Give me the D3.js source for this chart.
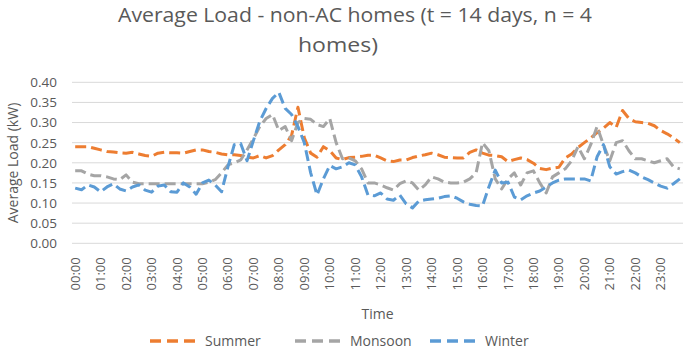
<!DOCTYPE html>
<html>
<head>
<meta charset="utf-8">
<script src="https://cdn.jsdelivr.net/npm/d3@7"></script>
<style>
    body { margin: 0; background: #fff; }
    text { font-family: "Open Sans", "Liberation Sans", sans-serif; fill: #595959; }
</style>
</head>
<body>
<svg id="chart"></svg>
<script>
const times = [
    "00:00","00:15","00:30","00:45","01:00","01:15","01:30","01:45",
    "02:00","02:15","02:30","02:45","03:00","03:15","03:30","03:45",
    "04:00","04:15","04:30","04:45","05:00","05:15","05:30","05:45",
    "06:00","06:15","06:30","06:45","07:00","07:15","07:30","07:45",
    "08:00","08:15","08:30","08:45","09:00","09:15","09:30","09:45",
    "10:00","10:15","10:30","10:45","11:00","11:15","11:30","11:45",
    "12:00","12:15","12:30","12:45","13:00","13:15","13:30","13:45",
    "14:00","14:15","14:30","14:45","15:00","15:15","15:30","15:45",
    "16:00","16:15","16:30","16:45","17:00","17:15","17:30","17:45",
    "18:00","18:15","18:30","18:45","19:00","19:15","19:30","19:45",
    "20:00","20:15","20:30","20:45","21:00","21:15","21:30","21:45",
    "22:00","22:15","22:30","22:45","23:00","23:15","23:30","23:45"
];
const hourLabels = [
    "00:00","01:00","02:00","03:00","04:00","05:00","06:00","07:00",
    "08:00","09:00","10:00","11:00","12:00","13:00","14:00","15:00",
    "16:00","17:00","18:00","19:00","20:00","21:00","22:00","23:00"
];
const yTicks = [0, 0.05, 0.10, 0.15, 0.20, 0.25, 0.30, 0.35, 0.40];

const summer = [
    0.240,0.240,0.240,0.236,0.232,0.228,0.227,0.225,0.224,0.226,0.222,0.218,
    0.216,0.224,0.226,0.225,0.225,0.224,0.228,0.232,0.232,0.228,0.226,0.222,
    0.220,0.220,0.218,0.214,0.212,0.218,0.212,0.218,0.232,0.245,0.268,0.338,
    0.262,0.224,0.214,0.240,0.230,0.212,0.208,0.213,0.214,0.216,0.219,0.219,
    0.212,0.205,0.203,0.207,0.207,0.213,0.217,0.220,0.224,0.220,0.214,0.213,
    0.212,0.212,0.226,0.232,0.224,0.219,0.218,0.215,0.203,0.208,0.212,0.208,
    0.199,0.186,0.183,0.187,0.189,0.212,0.222,0.238,0.250,0.262,0.275,0.286,
    0.300,0.288,0.330,0.310,0.302,0.300,0.298,0.292,0.280,0.272,0.262,0.250
];
const monsoon = [
    0.180,0.180,0.172,0.168,0.168,0.165,0.160,0.158,0.170,0.152,0.148,0.148,
    0.148,0.148,0.148,0.148,0.148,0.148,0.148,0.148,0.148,0.152,0.158,0.175,
    0.195,0.200,0.207,0.232,0.260,0.290,0.310,0.320,0.280,0.290,0.255,0.300,
    0.310,0.308,0.295,0.290,0.310,0.250,0.210,0.212,0.205,0.185,0.150,0.150,
    0.145,0.138,0.132,0.148,0.155,0.150,0.132,0.145,0.165,0.160,0.152,0.150,
    0.150,0.152,0.160,0.175,0.250,0.230,0.160,0.135,0.160,0.175,0.145,0.175,
    0.180,0.150,0.125,0.165,0.175,0.185,0.205,0.240,0.210,0.245,0.290,0.245,
    0.205,0.250,0.255,0.230,0.210,0.210,0.205,0.200,0.205,0.210,0.190,0.185
];
const winter = [
    0.137,0.133,0.145,0.140,0.128,0.140,0.148,0.135,0.130,0.140,0.145,0.132,
    0.127,0.142,0.145,0.128,0.127,0.150,0.140,0.122,0.150,0.157,0.145,0.128,
    0.190,0.245,0.248,0.205,0.255,0.303,0.335,0.360,0.375,0.335,0.320,0.290,
    0.250,0.175,0.120,0.160,0.193,0.185,0.190,0.200,0.195,0.165,0.120,0.118,
    0.125,0.110,0.107,0.120,0.098,0.088,0.105,0.108,0.110,0.112,0.116,0.118,
    0.112,0.103,0.097,0.094,0.093,0.140,0.182,0.150,0.152,0.115,0.108,0.118,
    0.125,0.130,0.140,0.150,0.157,0.160,0.160,0.160,0.160,0.155,0.215,0.245,
    0.190,0.172,0.178,0.182,0.175,0.165,0.158,0.150,0.142,0.137,0.148,0.160
];

const seriesNames = ["Summer", "Monsoon", "Winter"];
const seriesColors = ["#ED7D31", "#A5A5A5", "#5B9BD5"];
const seriesValues = [summer, monsoon, winter];

const width = 685, height = 349;
const plot = { left: 72, right: 683, top: 82.3, bottom: 243.3 };

const svg = d3.select("#chart").attr("width", width).attr("height", height);

const x = d3.scaleBand().domain(times).range([plot.left, plot.right]).padding(0);
const y = d3.scaleLinear().domain([0, 0.4]).range([plot.bottom, plot.top]);

// title
const title = svg.append("g").attr("class", "title");
title.append("text")
    .attr("x", 355).attr("y", 22)
    .attr("text-anchor", "middle")
    .attr("font-size", "20px")
    .attr("textLength", 474)
    .attr("lengthAdjust", "spacingAndGlyphs")
    .text("Average Load - non-AC homes (t = 14 days, n = 4");
title.append("text")
    .attr("x", 338).attr("y", 52)
    .attr("text-anchor", "middle")
    .attr("font-size", "20px")
    .attr("textLength", 80)
    .attr("lengthAdjust", "spacingAndGlyphs")
    .text("homes)");

// gridlines
svg.append("g")
    .selectAll("line")
    .data(yTicks)
    .join("line")
    .attr("x1", plot.left)
    .attr("x2", plot.right)
    .attr("y1", d => y(d))
    .attr("y2", d => y(d))
    .attr("stroke", "#d9d9d9")
    .attr("stroke-width", 1);

// y axis
const yAxis = svg.append("g")
    .attr("transform", `translate(${plot.left - 15}, 0)`)
    .call(d3.axisLeft(y).tickValues(yTicks).tickFormat(d3.format(".2f")).tickSize(0));
yAxis.select(".domain").remove();
yAxis.selectAll("text")
    .attr("x", 0)
    .attr("font-size", "13.5px")
    .attr("fill", "#595959");

svg.append("text")
    .attr("transform", "translate(13, 163) rotate(-90)")
    .attr("text-anchor", "middle")
    .attr("dy", "0.35em")
    .attr("font-size", "14px")
    .text("Average Load (kW)");

// x axis
const hourSet = new Set(hourLabels);
const xAxis = svg.append("g")
    .attr("transform", `translate(0, ${plot.bottom})`)
    .call(d3.axisBottom(x).tickValues(times.filter(t => hourSet.has(t))).tickSize(0));
xAxis.select(".domain").remove();
xAxis.selectAll("text")
    .attr("transform", "rotate(-90)")
    .attr("text-anchor", "end")
    .attr("x", -14)
    .attr("y", 0)
    .attr("dy", "0.35em")
    .attr("font-size", "13px")
    .attr("fill", "#595959");

svg.append("text")
    .attr("x", (plot.left + plot.right) / 2)
    .attr("y", 319)
    .attr("text-anchor", "middle")
    .attr("font-size", "14px")
    .text("Time");

// lines
const line = d3.line()
    .x((d, i) => x(times[i]) + x.bandwidth() / 2)
    .y(d => y(d));

svg.append("g")
    .selectAll("path")
    .data(seriesValues)
    .join("path")
    .attr("d", d => line(d))
    .attr("fill", "none")
    .attr("stroke", (d, i) => seriesColors[i])
    .attr("stroke-width", 3)
    .attr("stroke-dasharray", "11,5")
    .attr("stroke-linejoin", "round");

// legend
const legendX = [150, 295, 430];
const legend = svg.append("g")
    .selectAll("g")
    .data(seriesNames)
    .join("g")
    .attr("transform", (d, i) => `translate(${legendX[i]}, 341)`);
legend.append("line")
    .attr("x1", 0).attr("x2", 46)
    .attr("y1", 0).attr("y2", 0)
    .attr("stroke", (d, i) => seriesColors[i])
    .attr("stroke-width", 3.5)
    .attr("stroke-dasharray", "11,6");
legend.append("text")
    .attr("x", 55)
    .attr("y", 0)
    .attr("dy", "0.35em")
    .attr("font-size", "14px")
    .text(d => d);
</script>
</body>
</html>
